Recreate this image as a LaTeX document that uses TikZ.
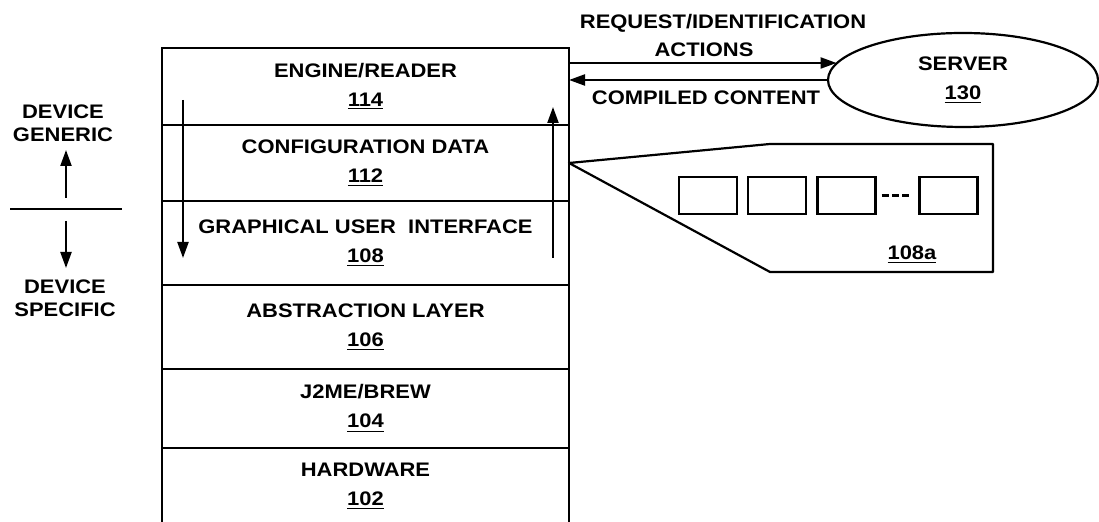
\documentclass[tikz,border=0pt]{standalone}
\usepackage{fontspec}
\setmainfont[FakeStretch=1.12]{Liberation Sans}
\usetikzlibrary{arrows.meta,positioning,shapes.geometric,calc}
\tikzset{
  lbl/.style={font=\bfseries\fontsize{9.8}{14.5}\selectfont,align=center,inner sep=0pt},
  legend/.style={lbl,font=\bfseries\fontsize{9.8}{11.5}\selectfont},
  layer/.style={draw,line width=1.1pt,minimum width=203.5pt,inner sep=0pt,outer sep=0pt,lbl},
  slot/.style={draw,line width=1.1pt,minimum width=29pt,minimum height=18.5pt,inner sep=0pt},
  flow/.style={line width=1.1pt,-{Triangle[length=8pt,width=5.5pt]}}
}

\begin{document}
\begin{tikzpicture}[x=0.5pt,y=-0.5pt]
  \useasboundingbox (0,0) rectangle (1099,522);
  \foreach \nm/\yc/\hgt/\txt in {
    114/86.5/38.5/{ENGINE/READER},
    112/163/38/{CONFIGURATION DATA},
    108/243/42/{GRAPHICAL USER\ \ INTERFACE},
    106/327/42/{ABSTRACTION LAYER},
    104/408.5/39.5/{J2ME/BREW},
    102/486.5/38.5/{HARDWARE}}{
    \node[layer,minimum height=\hgt pt] (l\nm) at (365.5,\yc) {\txt\\\underline{\nm}};
  }
  \coordinate (dtop) at (183,100);
  \coordinate (dbot) at (183,258);
  \coordinate (ubot) at (553,258);
  \coordinate (utop) at (553,107);
  \draw[flow] (dtop) -- (dbot);
  \draw[flow] (ubot) -- (utop);

  \node[legend] (generic) at (63,123) {DEVICE\\GENERIC};
  \node[legend] (specific) at (65,298.5) {DEVICE\\SPECIFIC};
  \coordinate (divl) at (10,209);
  \coordinate (divr) at (122,209);
  \coordinate (gfrom) at (66,198);
  \coordinate (gto) at (66,150);
  \coordinate (sfrom) at (66,221);
  \coordinate (sto) at (66,268);
  \draw[line width=1.1pt] (divl) -- (divr);
  \draw[flow] (gfrom) -- (gto);
  \draw[flow] (sfrom) -- (sto);

  \node[draw,ellipse,line width=1.1pt,minimum width=135pt,minimum height=47pt,inner sep=0pt,lbl] (server) at (963,80) {SERVER\\\underline{130}};
  \coordinate (req) at ([yshift=-7.5pt]l114.north east);
  \draw[flow] (req) -- (req -| server.172);
  \draw[flow] (server.west) -- (server.west -| l114.east);
  \node[lbl] (reqlbl) at (723,23) {REQUEST/IDENTIFICATION};
  \node[lbl] (actlbl) at (704,50) {ACTIONS};
  \node[lbl] (cclbl) at (706,98) {COMPILED CONTENT};

  \coordinate (tip) at (l112.east);
  \draw[line width=1.1pt,line join=round] (tip) -- (770,144) -- (993,144) -- (993,272) -- (770,272) -- cycle;
  \foreach \i/\x in {1/708,2/777,3/846.5,4/948.5}
    \node[slot] (s\i) at (\x,195.5) {};
  \draw[line width=1.4pt,dash pattern=on 3.5pt off 1.6pt] ([xshift=2.5pt]s3.east) -- ([xshift=-3.5pt]s4.west);
  \node[lbl] (cap108a) at (912,255) {\underline{108a}};
\end{tikzpicture}
\end{document}
